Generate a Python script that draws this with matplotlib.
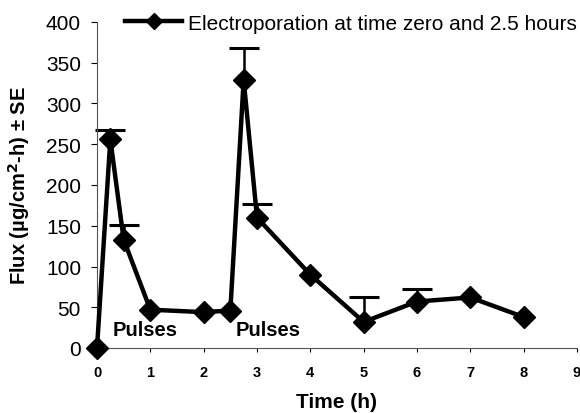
import matplotlib.pyplot as plt

plt.rcParams['font.family'] = ['Liberation Sans', 'DejaVu Sans']

# data
time_h = [0, 0.25, 0.5, 1, 2, 2.5, 2.75, 3, 4, 5, 6, 7, 8]
flux = [0, 256, 133, 47, 44, 46, 329, 160, 90, 32, 57, 62, 38]
se_upper = [0, 12, 18, 0, 0, 0, 39, 17, 0, 30, 16, 0, 0]
pulse_labels = ["Pulses", "Pulses"]
pulse_x = [0.3, 2.6]
pulse_y = [23, 23]

fig = plt.figure(figsize=(5.8, 4.14), dpi=100)
ax = fig.add_axes([97 / 580, 1 - 349 / 414, 480 / 580, 326 / 414])

# only upper error bars, only where an SE is visible
eb = [(t, f, e) for t, f, e in zip(time_h, flux, se_upper) if e > 0]
eb_t = [p[0] for p in eb]
eb_f = [p[1] for p in eb]
eb_e = [p[2] for p in eb]
_, caps, _ = ax.errorbar(eb_t, eb_f, yerr=[[0] * len(eb_e), eb_e],
                         fmt='none', ecolor='black', elinewidth=1.8,
                         capsize=11, capthick=2.2, clip_on=False)
caps[0].remove()

ax.plot(time_h, flux, color='black', lw=3.2, marker='D', markersize=11,
        clip_on=False, zorder=3,
        label="Electroporation at time zero and 2.5 hours")

for lab, x, y in zip(pulse_labels, pulse_x, pulse_y):
    ax.text(x, y, lab, fontsize=14.5, fontweight='bold', va='center', ha='left')

ax.set_xlim(0, 9)
ax.set_ylim(0, 400)
ax.set_xticks(range(0, 10))
ax.set_yticks(range(0, 401, 50))
ax.tick_params(axis='x', labelsize=10.5, direction='out', length=3, width=0.8, pad=9)
for t in ax.get_xticklabels():
    t.set_fontweight('bold')
ax.tick_params(axis='y', labelsize=15, direction='out', length=4, width=0.8, pad=7.5)

for s in ['top', 'right']:
    ax.spines[s].set_visible(False)
for s in ['left', 'bottom']:
    ax.spines[s].set_linewidth(0.8)
    ax.spines[s].set_color('#555555')

ax.set_xlabel("Time (h)", fontsize=15, fontweight='bold', va='top')
ax.xaxis.set_label_coords(0.5, -0.135)
ax.set_ylabel("Flux (µg/cm$^{\\mathbf{2}}$-h) ± SE", fontsize=14.5, fontweight='bold')
ax.yaxis.set_label_coords(-0.135, 0.5)

ax.legend(loc='center left', bbox_to_anchor=(125 / 580, 1 - 24 / 414),
          bbox_transform=fig.transFigure, frameon=False, borderpad=0,
          borderaxespad=0, fontsize=15, handlelength=2.75, handletextpad=0.25,
          markerscale=0.7)

fig.savefig("out.png", dpi=100)
